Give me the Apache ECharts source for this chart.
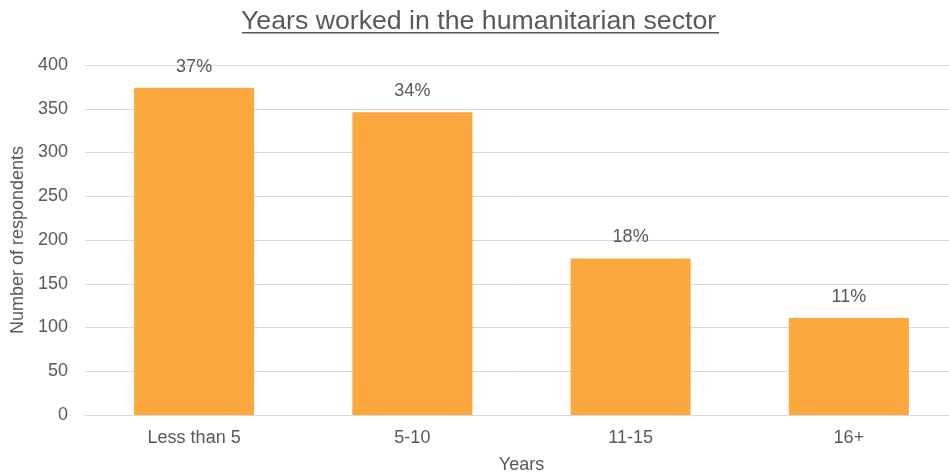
<!DOCTYPE html>
<html>
<head>
<meta charset="utf-8">
<script src="https://cdn.jsdelivr.net/npm/echarts@6/dist/echarts.min.js"></script>
<style>
  html, body { margin: 0; padding: 0; background: #fff; }
  #chart { width: 949px; height: 476px; }
</style>
</head>
<body>
<div id="chart"></div>
<script>
// Years of experience in the humanitarian sector
const categories = ['Less than 5', '5-10', '11-15', '16+'];
const respondents = [374, 346, 179, 111];
const shareLabels = ['37%', '34%', '18%', '11%'];
const yTicks = [0, 50, 100, 150, 200, 250, 300, 350, 400];

const textColor = '#595959';
const fontFamily = 'Liberation Sans, Arial, sans-serif';

const chart = echarts.init(document.getElementById('chart'), null, { renderer: 'canvas' });

chart.setOption({
  backgroundColor: '#ffffff',
  animation: false,
  title: {
    text: 'Years worked in the humanitarian sector',
    left: 241,
    top: 3,
    padding: [5, 0],
    textStyle: { color: textColor, fontSize: 26.7, fontWeight: 'normal', fontFamily: fontFamily }
  },
  // underline beneath the title
  graphic: [{
    type: 'rect',
    shape: { x: 242, y: 32, width: 477, height: 1.5 },
    style: { fill: textColor }
  }],
  grid: { left: 85, right: -9, top: 65, bottom: 61, outerBoundsMode: 'none', containLabel: false },
  xAxis: {
    type: 'category',
    data: categories,
    name: 'Years',
    nameLocation: 'middle',
    nameGap: 41,
    nameTextStyle: { color: textColor, fontSize: 18, fontFamily: fontFamily },
    axisLine: { lineStyle: { color: '#d9d9d9', width: 1 } },
    axisTick: { show: false },
    axisLabel: { color: textColor, fontSize: 18, fontFamily: fontFamily, margin: 14 }
  },
  yAxis: {
    type: 'value',
    min: yTicks[0],
    max: yTicks[yTicks.length - 1],
    interval: yTicks[1] - yTicks[0],
    name: 'Number of respondents',
    nameLocation: 'middle',
    nameGap: 57,
    nameTextStyle: { color: textColor, fontSize: 18, fontFamily: fontFamily },
    axisLine: { show: false },
    axisTick: { show: false },
    axisLabel: { color: textColor, fontSize: 18, fontFamily: fontFamily, margin: 17 },
    splitLine: { lineStyle: { color: '#d9d9d9', width: 1 } }
  },
  series: [{
    type: 'bar',
    data: respondents,
    barWidth: '55%',
    itemStyle: { color: '#FBA83F' },
    label: {
      show: true,
      position: 'top',
      distance: 12,
      color: textColor,
      fontSize: 18,
      fontFamily: fontFamily,
      formatter: (p) => shareLabels[p.dataIndex]
    }
  }]
});
</script>
</body>
</html>
